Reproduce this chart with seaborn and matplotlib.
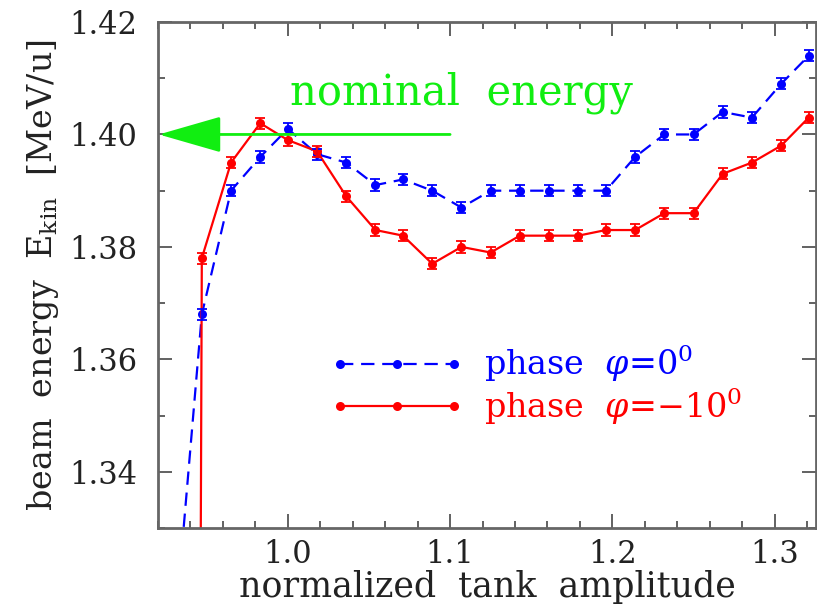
import numpy as np
import pandas as pd
import seaborn as sns
import matplotlib.pyplot as plt
from matplotlib.ticker import MultipleLocator

# normalized tank amplitude (first point lies below the visible range)
amp = [0.929, 0.947, 0.965, 0.983, 1.000, 1.018, 1.036, 1.054, 1.071, 1.089, 1.107, 1.125,
       1.143, 1.161, 1.179, 1.196, 1.214, 1.232, 1.250, 1.268, 1.286, 1.304, 1.321]
energy_phi0 = [1.307, 1.368, 1.390, 1.396, 1.401, 1.3965, 1.395, 1.391, 1.392, 1.390, 1.387, 1.390,
               1.390, 1.390, 1.390, 1.390, 1.396, 1.400, 1.400, 1.404, 1.403, 1.409, 1.414]
energy_phi10 = [0.0, 1.378, 1.395, 1.402, 1.399, 1.397, 1.389, 1.383, 1.382, 1.377, 1.380, 1.379,
                1.382, 1.382, 1.382, 1.383, 1.383, 1.386, 1.386, 1.393, 1.395, 1.398, 1.403]
err = 0.001
nominal = 1.40

lab0 = 'phase  $\\varphi$=0$^0$'
lab10 = 'phase  $\\varphi$=\u221210$^0$'

df = pd.DataFrame({
    'amp': amp + amp,
    'energy': energy_phi0 + energy_phi10,
    'phase': [lab0] * len(amp) + [lab10] * len(amp),
})

sns.set_theme(style='ticks')
plt.rcParams['font.family'] = ['DejaVu Serif']
plt.rcParams['mathtext.fontset'] = 'dejavuserif'

fig = plt.figure(figsize=(8.17, 6.10), dpi=100)
ax = fig.add_axes([0.1934, 0.1344, 0.8054, 0.8295])

pal = {lab0: '#0000ff', lab10: '#ff0000'}
sns.lineplot(data=df, x='amp', y='energy', hue='phase', style='phase', palette=pal,
             dashes={lab0: (6, 3.5), lab10: ''}, markers={lab0: 'o', lab10: 'o'},
             markersize=6.5, markeredgewidth=0, linewidth=1.6, sort=False,
             errorbar=None, legend=False, ax=ax)
handles = ax.get_lines()[:2]

ax.errorbar(amp, energy_phi0, yerr=err, fmt='none', ecolor='#0000ff', elinewidth=1.3, capsize=3.5, capthick=1.3)
ax.errorbar(amp, energy_phi10, yerr=err, fmt='none', ecolor='#ff0000', elinewidth=1.3, capsize=3.5, capthick=1.3)

# nominal energy arrow
green = '#11ee11'
ax.annotate('', xy=(0.9205, nominal), xytext=(1.1, nominal), annotation_clip=False,
            arrowprops=dict(arrowstyle='-|>,head_length=3.3,head_width=0.95', color=green, lw=2,
                            shrinkA=0, shrinkB=0))
ax.text(1.1072, 1.4075, 'nominal  energy', color=green, fontsize=30, ha='center', va='center')

ax.set_xlim(0.92, 1.3255)
ax.set_ylim(1.33, 1.42)
ax.xaxis.set_major_locator(MultipleLocator(0.1))
ax.xaxis.set_minor_locator(MultipleLocator(0.02))
ax.yaxis.set_major_locator(MultipleLocator(0.02))
ax.yaxis.set_minor_locator(MultipleLocator(0.01))
ax.xaxis.set_major_formatter(lambda v, p: f'{v:.1f}')
ax.yaxis.set_major_formatter(lambda v, p: f'{v:.2f}')
ax.tick_params(which='both', direction='in', top=True, right=True, colors='#555555',
               labelcolor='#222222', labelsize=22, width=1.3)
ax.tick_params(which='major', length=10)
ax.tick_params(which='minor', length=5)
ax.tick_params(axis='x', which='major', pad=8)
ax.tick_params(axis='y', which='major', pad=15)
for sp in ax.spines.values():
    sp.set_visible(True)
    sp.set_color('#666666')
    sp.set_linewidth(2)

ax.set_xlabel('normalized  tank  amplitude', fontsize=25, color='#222222', labelpad=0)
ax.set_ylabel('beam  energy  E$_{\\rm kin}$  [MeV/u]', fontsize=24, color='#222222', labelpad=6)

leg = ax.legend(handles=handles, labels=[lab0, lab10], loc='center left',
                bbox_to_anchor=(0.262, 0.2826), frameon=False, fontsize=24, numpoints=3,
                handlelength=4.0, handletextpad=0.6, labelspacing=0.05, borderpad=0,
                borderaxespad=0, labelcolor='linecolor')

fig.savefig('out.png', dpi=100)
